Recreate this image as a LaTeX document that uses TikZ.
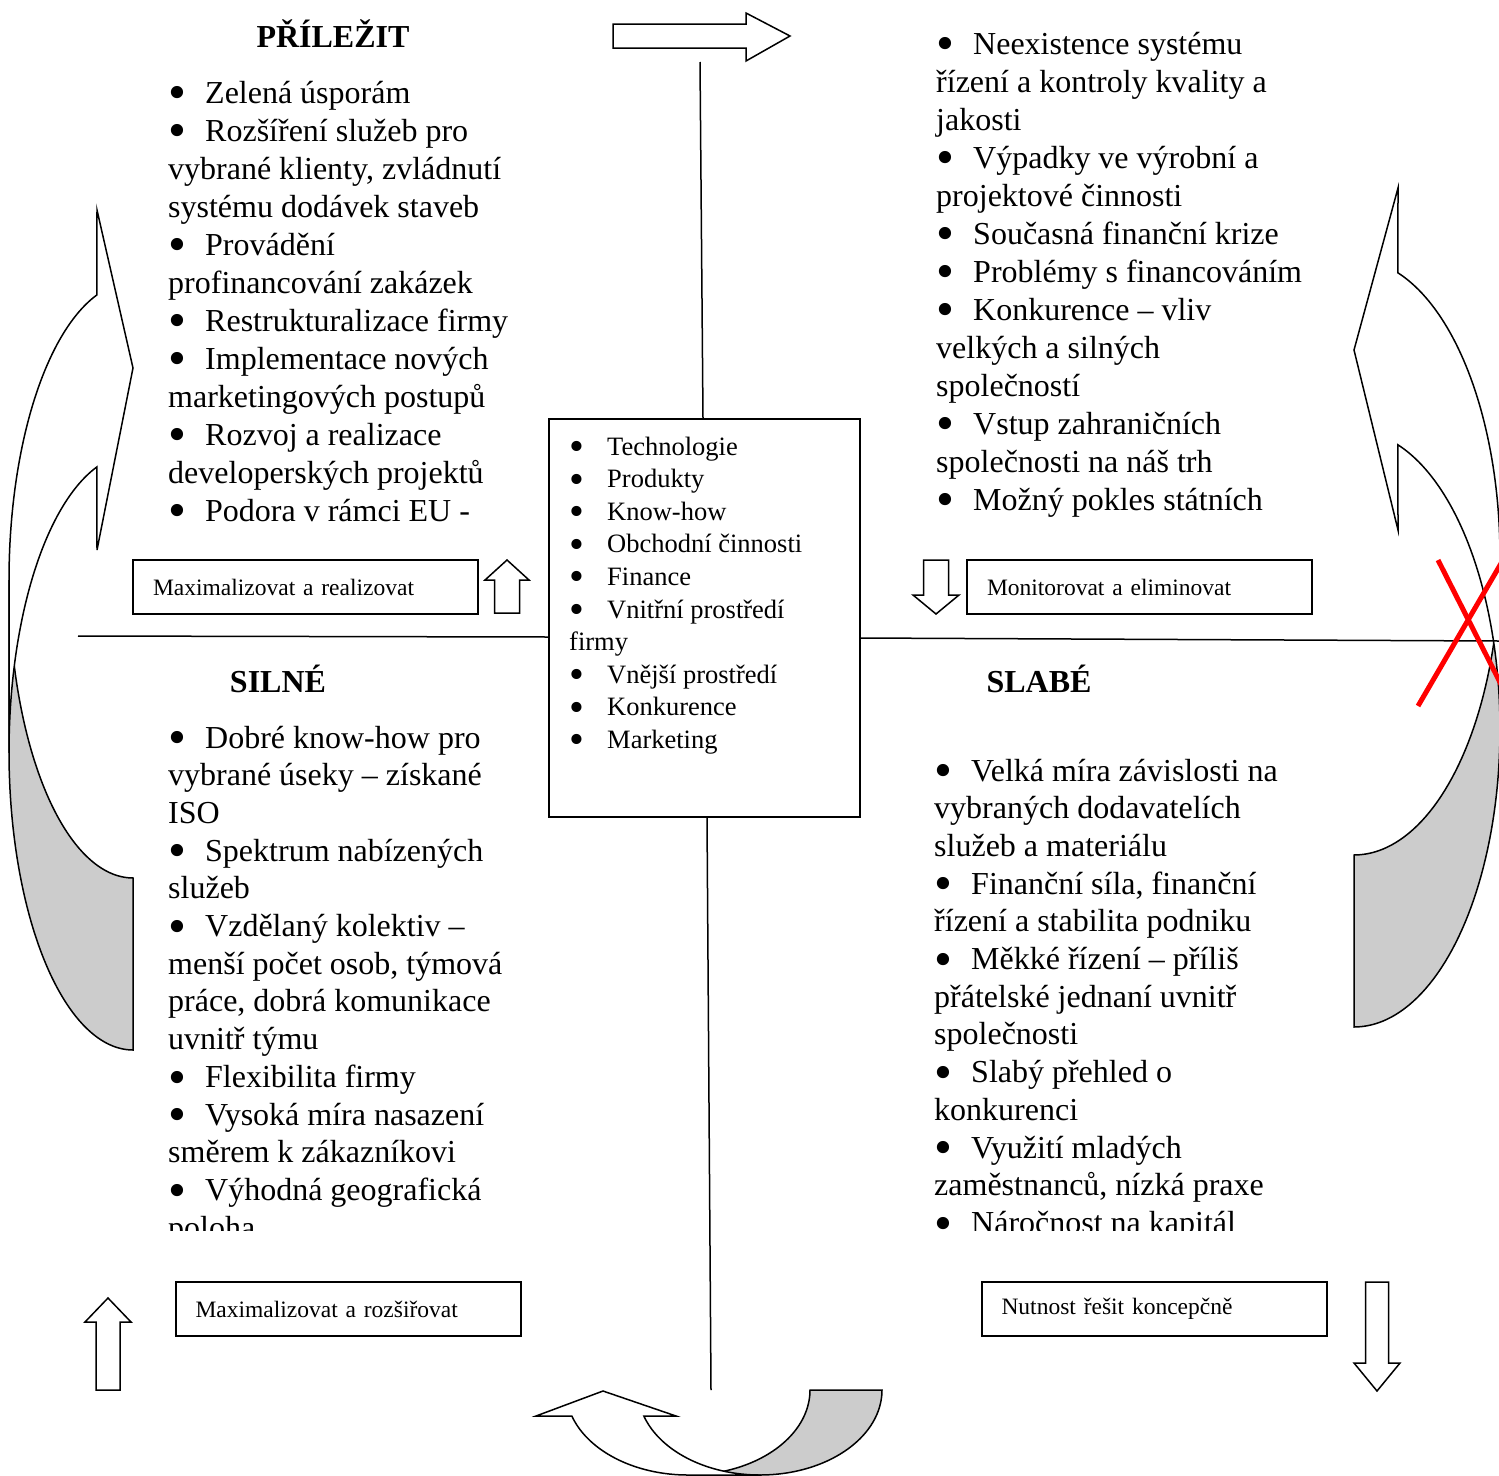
\documentclass[tikz,border=0pt]{standalone}
\usepackage{fontspec}
\setmainfont{Liberation Serif}
\definecolor{backgrey}{RGB}{204,204,204}
\newcommand{\bigbul}{\raisebox{-0.21em}[0.45em][0pt]{\scalebox{1.6}{•}}}
\newcommand{\qbul}{\makebox[37pt][l]{\bigbul}}
\newcommand{\cbul}{\makebox[38pt][l]{\bigbul}}
\newcommand{\qtext}[1]{\fontsize{32}{38}\selectfont\vtop{\hsize=600pt\parindent=0pt\lineskiplimit=-1000pt\baselineskip=38pt #1}}
\newcommand{\qtextb}[1]{\fontsize{32}{37.7}\selectfont\vtop{\hsize=600pt\parindent=0pt\lineskiplimit=-1000pt\baselineskip=37.7pt #1}}
\newcommand{\ctext}[1]{\fontsize{26.5}{32.6}\selectfont\vtop{\hsize=400pt\parindent=0pt\lineskiplimit=-1000pt\baselineskip=32.6pt #1}}
\begin{document}
\begin{tikzpicture}[x=1pt,y=-1pt,
  ln/.style={line width=1.5pt},
  shp/.style={draw=black, line width=1.5pt, line join=miter},
  quad/.style={anchor=base west, inner sep=0pt},
  heading/.style={anchor=base, inner sep=0pt, font=\fontsize{32}{38}\selectfont\bfseries},
  lbl/.style={draw, line width=2pt, align=left, inner xsep=20pt, inner ysep=0pt,
    minimum height=54pt, text width=305pt, font=\fontsize{23.5}{28}\selectfont}]
\useasboundingbox (0,0) rectangle (1499,1475);
\clip (0,0) rectangle (1499,1475);

% ---- curved arrow, left ----
\filldraw[fill=backgrey, shp] (9,580) -- plot[domain=180:90, samples=50] ({133+124*cos(\x)},{580+298*sin(\x)})
  -- (133,1050) -- plot[domain=90:180, samples=50] ({133+124*cos(\x)},{752+298*sin(\x)}) -- cycle;
\filldraw[fill=white, shp] (9,752) -- (9,580) -- plot[domain=180:253.1, samples=50] ({133+124*cos(\x)},{580+298*sin(\x)})
  -- (97,210) -- (133,368) -- (97,550)
  -- plot[domain=253.1:180, samples=50] ({133+124*cos(\x)},{752+298*sin(\x)}) -- cycle;

% ---- curved arrow, right ----
\filldraw[fill=backgrey, shp] (1500,557) -- plot[domain=0:90, samples=50] ({1354+146*cos(\x)},{557+298*sin(\x)})
  -- (1354,1027) -- plot[domain=90:0, samples=50] ({1354+146*cos(\x)},{729+298*sin(\x)}) -- cycle;
\filldraw[fill=white, shp] (1500,729) -- (1500,557) -- plot[domain=360:287.5, samples=50] ({1354+146*cos(\x)},{557+298*sin(\x)})
  -- (1398,188) -- (1354,350) -- (1398,530)
  -- plot[domain=287.5:360, samples=50] ({1354+146*cos(\x)},{729+298*sin(\x)}) -- cycle;

% ---- curved arrow, bottom ----
\filldraw[fill=backgrey, shp] (688,1475) -- plot[domain=90:0, samples=50] ({688+122*cos(\x)},{1390+85*sin(\x)})
  -- (882,1390) -- plot[domain=0:90, samples=50] ({760+122*cos(\x)},{1390+85*sin(\x)}) -- cycle;
\filldraw[fill=white, shp] (760,1475) -- (688,1475) -- plot[domain=90:162.2, samples=50] ({688+122*cos(\x)},{1390+85*sin(\x)})
  -- (536,1416) -- (603,1391) -- (676,1416)
  -- plot[domain=162.2:90, samples=50] ({760+122*cos(\x)},{1390+85*sin(\x)}) -- cycle;

% ---- centre box and axes ----
\node[draw, line width=1.5pt, minimum width=311pt, minimum height=398pt, inner sep=0pt] (cbox) at (704.5,618) {};
\coordinate (topend) at (700,62);
\coordinate (botend) at (711,1390);
\coordinate (leftend) at (78,636);
\coordinate (rightend) at (1499,641);
\coordinate (lmeet) at (549,637);
\coordinate (rmeet) at (860,638);
\draw[ln] (topend) -- ([xshift=-1.5pt]cbox.north);
\draw[ln] ([xshift=2.5pt]cbox.south) -- (botend);
\draw[ln] (leftend) -- (lmeet);
\draw[ln] (rmeet) -- (rightend);

% ---- top block arrow ----
\filldraw[fill=white, shp] (613,24) -- (746,24) -- (746,13) -- (790,36) -- (746,61) -- (746,48) -- (613,48) -- cycle;

% ---- small block arrows ----
\filldraw[fill=white, shp] (494.5,613) -- (494.5,580) -- (485,580) -- (507,560) -- (529,580) -- (519.5,580) -- (519.5,613) -- cycle;
\filldraw[fill=white, shp] (923.5,560) -- (948.5,560) -- (948.5,595) -- (959,595) -- (936,614) -- (913,595) -- (923.5,595) -- cycle;
\filldraw[fill=white, shp] (96,1390) -- (96,1322) -- (85,1322) -- (108,1298) -- (131,1322) -- (120,1322) -- (120,1390) -- cycle;
\filldraw[fill=white, shp] (1365.5,1282) -- (1388.5,1282) -- (1388.5,1363) -- (1400,1363) -- (1377,1391) -- (1354,1363) -- (1365.5,1363) -- cycle;

% ---- label boxes ----
\node[lbl] (b1) at (305.5,587) {Maximalizovat a realizovat};
\node[lbl] (b2) at (1139.5,587) {Monitorovat a eliminovat};
\node[lbl] (b3) at (348,1309) {Maximalizovat a rozšiřovat};
\node[lbl] (b4) at (1154,1309) {Nutnost řešit koncepčně};

% ---- headings ----
\node[heading] (h1) at (333,47) {PŘÍLEŽIT};
\node[heading] (h2) at (278,692) {SILNÉ};
\node[heading] (h3) at (1039,692) {SLABÉ};

% ---- quadrant texts ----
\begin{scope}
\clip (150,60) rectangle (545,521);
\node[quad] (tl) at (168,103) {\qtext{%
\qbul Zelená úsporám\par
\qbul Rozšíření služeb pro\par
vybrané klienty, zvládnutí\par
systému dodávek staveb\par
\qbul Provádění\par
profinancování zakázek\par
\qbul Restrukturalizace firmy\par
\qbul Implementace nových\par
marketingových postupů\par
\qbul Rozvoj a realizace\par
developerských projektů\par
\qbul Podora v rámci EU -\par}};
\end{scope}

\node[quad] (tr) at (936,54) {\qtext{%
\qbul Neexistence systému\par
řízení a kontroly kvality a\par
jakosti\par
\qbul Výpadky ve výrobní a\par
projektové činnosti\par
\qbul Současná finanční krize\par
\qbul Problémy s financováním\par
\qbul Konkurence – vliv\par
velkých a silných\par
společností\par
\qbul Vstup zahraničních\par
společnosti na náš trh\par
\qbul Možný pokles státních\par}};

\begin{scope}
\clip (150,700) rectangle (545,1230);
\node[quad] (bl) at (168,748) {\qtextb{%
\qbul Dobré know-how pro\par
vybrané úseky – získané\par
ISO\par
\qbul Spektrum nabízených\par
služeb\par
\qbul Vzdělaný kolektiv –\par
menší počet osob, týmová\par
práce, dobrá komunikace\par
uvnitř týmu\par
\qbul Flexibilita firmy\par
\qbul Vysoká míra nasazení\par
směrem k zákazníkovi\par
\qbul Výhodná geografická\par
poloha\par}};
\end{scope}

\begin{scope}
\clip (900,700) rectangle (1340,1230);
\node[quad] (br) at (934,781) {\qtextb{%
\qbul Velká míra závislosti na\par
vybraných dodavatelích\par
služeb a materiálu\par
\qbul Finanční síla, finanční\par
řízení a stabilita podniku\par
\qbul Měkké řízení – příliš\par
přátelské jednaní uvnitř\par
společnosti\par
\qbul Slabý přehled o\par
konkurenci\par
\qbul Využití mladých\par
zaměstnanců, nízká praxe\par
\qbul Náročnost na kapitál\par}};
\end{scope}

% ---- centre list ----
\node[quad] (clist) at (569,455) {\ctext{%
\cbul Technologie\par
\cbul Produkty\par
\cbul Know-how\par
\cbul Obchodní činnosti\par
\cbul Finance\par
\cbul Vnitřní prostředí\par
firmy\par
\cbul Vnější prostředí\par
\cbul Konkurence\par
\cbul Marketing\par}};

% ---- red cross ----
\draw[red, line width=5pt] (1438,560) -- (1510,702);
\draw[red, line width=5pt] (1418,706) -- (1510,548);
\end{tikzpicture}
\end{document}
